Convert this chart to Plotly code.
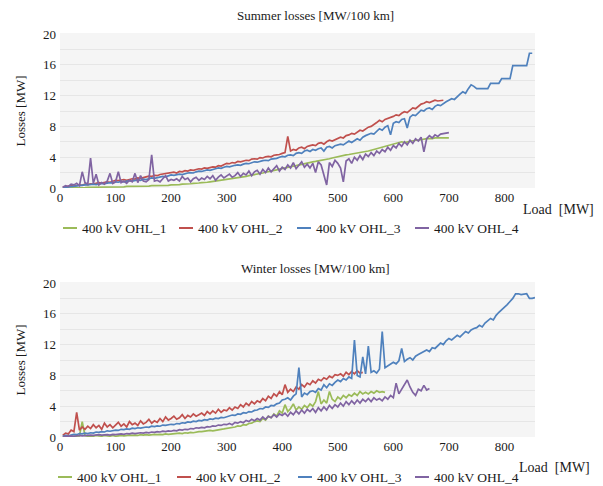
import plotly.graph_objects as go

# ---------------- data (Load step 5 MW, starting at 5 MW) ----------------
load_step = 5
series_names = ["400 kV OHL_1", "400 kV OHL_2", "400 kV OHL_3", "400 kV OHL_4"]
colors = ["#9bbb59", "#c0504d", "#4f81bd", "#8064a2"]
x_ticks = [0, 100, 200, 300, 400, 500, 600, 700, 800]
y_ticks = [0, 4, 8, 12, 16, 20]

summer_ohl1 = [
    0.0, 0.0, 0.0, 0.0, 0.05, 0.05, 0.05, 0.05, 0.05, 0.1,
    0.1, 0.1, 0.1, 0.1, 0.1, 0.1, 0.1, 0.1, 0.15, 0.15,
    0.15, 0.15, 0.15, 0.2, 0.2, 0.2, 0.2, 0.2, 0.25, 0.25,
    0.25, 0.25, 0.3, 0.3, 0.3, 0.3, 0.35, 0.35, 0.35, 0.4,
    0.4, 0.45, 0.45, 0.5, 0.5, 0.55, 0.55, 0.6, 0.6, 0.65,
    0.7, 0.7, 0.75, 0.8, 0.85, 0.9, 0.95, 1.0, 1.05, 1.1,
    1.15, 1.2, 1.25, 1.3, 1.4, 1.45, 1.5, 1.6, 1.65, 1.75,
    1.8, 1.9, 1.95, 2.05, 2.1, 2.2, 2.3, 2.35, 2.45, 2.55,
    2.6, 2.7, 2.75, 2.85, 2.9, 3.0, 3.1, 3.15, 3.2, 3.3,
    3.4, 3.45, 3.5, 3.6, 3.65, 3.75, 3.8, 3.9, 4.0, 4.1,
    4.15, 4.2, 4.3, 4.35, 4.4, 4.5, 4.55, 4.6, 4.7, 4.75,
    4.8, 4.9, 5.0, 5.1, 5.3, 5.4, 5.4, 5.5, 5.6, 5.7,
    5.8, 5.9, 6.0, 5.9, 6.0, 6.1, 6.1, 6.2, 6.2, 6.3,
    6.3, 6.4, 6.4, 6.4, 6.5, 6.5, 6.5, 6.5, 6.5, 6.5,
]
summer_ohl2 = [
    0.1, 0.15, 0.2, 0.3, 0.25, 0.35, 0.4, 0.35, 0.5, 0.45,
    0.55, 0.5, 0.6, 0.7, 0.65, 0.75, 0.8, 0.75, 0.9, 1.0,
    0.95, 1.05, 1.1, 1.0, 1.15, 1.2, 1.15, 1.3, 1.25, 1.4,
    1.45, 1.55, 1.5, 1.65, 1.6, 1.75, 1.8, 1.85, 1.95, 2.0,
    2.05, 1.95, 2.15, 2.1, 2.25, 2.2, 2.35, 2.3, 2.45, 2.5,
    2.45, 2.6, 2.55, 2.7, 2.75, 2.7, 2.9, 2.85, 3.05, 3.2,
    3.15, 3.3, 3.25, 3.45, 3.4, 3.55, 3.6, 3.55, 3.75, 3.8,
    3.75, 3.95, 3.9, 4.05, 4.1, 4.05, 4.25, 4.3, 4.35, 4.5,
    4.6, 6.7, 4.8, 5.0, 4.9, 5.2, 5.3, 5.1, 5.4, 5.5,
    5.6, 5.5, 5.8, 5.9, 5.7, 6.0, 6.2, 6.1, 6.3, 6.4,
    6.6, 6.5, 6.8, 6.9, 7.1, 7.0, 7.3, 7.5, 7.4, 7.7,
    7.9, 8.0, 8.2, 8.5, 8.8, 8.6, 8.9, 9.0, 9.2, 9.3,
    9.5, 9.4, 9.7, 9.9, 9.8, 10.1, 10.4, 10.3, 10.6, 10.9,
    11.0, 11.2, 11.1, 11.3, 11.4, 11.3, 11.4, 11.4,
]
summer_ohl3 = [
    0.05, 0.1, 0.15, 0.2, 0.25, 0.3, 0.3, 0.35, 0.4, 0.4,
    0.45, 0.5, 0.45, 0.55, 0.6, 0.55, 0.65, 0.7, 0.65, 0.8,
    0.75, 0.85, 0.8, 0.9, 0.95, 0.9, 1.0, 1.05, 1.0, 1.15,
    1.1, 1.2, 1.3, 1.25, 1.35, 1.4, 1.5, 1.45, 1.6, 1.7,
    1.65, 1.75, 1.8, 1.75, 1.9, 1.95, 2.0, 1.95, 2.1, 2.2,
    2.15, 2.3, 2.35, 2.3, 2.45, 2.5, 2.6, 2.55, 2.7, 2.8,
    2.75, 2.9, 2.95, 3.0, 2.95, 3.1, 3.2, 3.15, 3.3, 3.4,
    3.35, 3.5, 3.55, 3.6, 3.55, 3.75, 3.8, 3.85, 4.0, 4.1,
    4.05, 4.25, 4.3, 4.2, 4.5, 4.6, 4.5, 4.8, 4.9, 4.75,
    5.0, 4.9, 5.1, 5.2, 4.8, 5.3, 5.4, 5.2, 5.5, 5.6,
    5.7, 5.6, 5.9, 6.1, 5.9, 6.2, 6.4, 6.2, 6.6, 6.8,
    6.9, 7.1, 7.0, 7.4, 7.7, 7.5, 7.9, 8.1, 6.9, 8.4,
    8.6, 8.5, 8.9, 9.0, 7.8, 9.2, 9.5, 9.4, 9.8, 10.1,
    10.0, 10.3, 10.4, 10.2, 10.6, 10.8, 10.7, 11.0, 11.2, 11.4,
    11.6, 11.5, 11.9, 12.2, 12.5, 12.3, 12.9, 13.4, 13.2, 12.9,
    12.9, 12.9, 12.9, 12.9, 13.6, 13.6, 13.6, 13.6, 14.2, 14.2,
    14.2, 14.2, 15.9, 15.9, 15.9, 15.9, 15.9, 15.9, 17.5, 17.5,
]
summer_ohl4 = [
    0.1, 0.3, 0.2, 0.5, 0.4, 0.6, 0.3, 2.1, 0.7, 0.5,
    3.9, 0.6, 1.8, 0.4, 0.7, 0.5, 0.9, 1.9, 0.6, 0.8,
    2.1, 0.7, 0.9, 0.6, 1.0, 0.8, 1.9, 0.7, 1.6, 0.9,
    0.8, 1.1, 4.3, 0.9, 1.0, 0.8, 1.2, 1.6, 0.9, 1.1,
    1.0, 1.2, 0.9, 1.5, 1.1, 1.3, 0.8, 1.2, 1.4, 1.0,
    1.3, 1.1, 1.5, 1.2, 1.6, 1.0, 1.4, 1.7, 1.3, 1.5,
    1.8, 1.4, 1.6, 2.0, 1.5, 1.9, 1.7, 2.2, 1.6, 2.1,
    2.3, 1.8, 2.4, 2.0, 2.6, 2.1, 2.5, 2.9, 2.2, 2.7,
    2.4, 3.0, 2.6, 3.3, 2.5, 2.9, 3.4, 2.7, 3.1, 2.6,
    3.2, 2.0, 3.4, 3.0, 1.5, 0.4, 3.3, 2.8, 3.6, 3.2,
    2.6, 0.8, 3.5, 3.8, 3.2, 4.0, 3.6, 4.2, 3.7, 4.4,
    4.1, 4.6, 4.2, 4.8, 4.5, 5.0, 4.7, 5.3, 4.9, 5.5,
    5.2, 5.8, 5.4, 6.0, 5.6, 6.2, 5.8, 6.4, 6.1, 6.6,
    4.7, 6.4, 6.8, 6.5, 6.9, 6.7, 7.0, 7.1, 7.2, 7.2,
]

winter_ohl1 = [
    0.0, 0.05, 0.1, 0.05, 0.1, 0.1, 0.15, 2.0, 0.2, 0.1,
    0.15, 0.1, 0.2, 0.15, 0.1, 0.2, 0.15, 0.1, 0.2, 0.1,
    0.15, 0.2, 0.15, 0.2, 0.25, 0.2, 0.25, 0.2, 0.3, 0.25,
    0.3, 0.25, 0.3, 0.35, 0.3, 0.35, 0.3, 0.4, 0.35, 0.4,
    0.4, 0.45, 0.5, 0.45, 0.55, 0.5, 0.6, 0.55, 0.65, 0.7,
    0.7, 0.75, 0.8, 0.85, 0.8, 0.9, 0.95, 1.0, 1.05, 1.1,
    1.2, 1.25, 1.3, 1.45, 1.4, 1.6, 1.55, 1.75, 1.8, 2.0,
    2.1, 2.0, 2.4, 2.2, 2.7, 2.5, 3.0, 2.7, 3.4, 3.1,
    4.2, 3.3, 3.7, 4.3, 3.5, 3.9, 3.6, 4.1, 3.8, 4.3,
    4.0, 4.6, 5.9, 4.3, 4.8, 4.4, 5.9, 4.9, 4.6, 5.2,
    4.9, 5.4, 5.1, 5.5, 5.3, 5.7, 5.4, 5.9, 5.6, 5.8,
    5.6, 5.9, 5.7, 6.0, 5.8, 5.9, 5.8,
]
winter_ohl2 = [
    0.2, 0.5, 0.4, 0.9, 0.7, 3.2, 0.9, 1.3, 1.0, 1.4,
    1.1, 1.6, 1.2, 1.5, 1.0, 1.8, 1.3, 1.6, 1.2, 1.5,
    1.9, 1.4, 1.7, 1.3, 2.0, 1.6, 1.8, 1.5, 2.1, 1.7,
    1.9, 2.3, 1.8, 2.1, 1.9, 2.4, 2.0, 2.6, 2.2, 2.4,
    2.7, 2.3, 2.5, 2.9, 2.4, 2.8, 2.6, 3.0, 2.7, 2.9,
    3.1, 2.8, 3.3, 3.0, 3.4, 3.1, 3.6, 3.2, 3.5, 3.4,
    3.8, 3.5, 3.9, 3.7, 4.2, 3.9, 4.4, 4.1, 4.6, 4.3,
    4.7, 4.5, 5.0, 4.7, 5.3, 5.0, 5.6, 5.3, 5.9, 5.5,
    6.8, 5.8, 6.2, 5.9, 6.5, 6.2, 6.8, 6.5, 7.0, 6.8,
    7.3, 7.0, 7.5, 7.3, 7.7, 7.5, 7.9, 7.7, 8.1, 8.0,
    8.2, 7.9, 8.4, 8.1, 8.5, 8.2, 8.6, 8.3, 8.4,
]
winter_ohl3 = [
    0.1, 0.2, 0.15, 0.3, 0.35, 0.3, 0.45, 0.4, 0.5, 0.45,
    0.55, 0.5, 0.65, 0.6, 0.7, 0.65, 0.8, 0.75, 0.85, 0.9,
    0.85, 1.0, 0.95, 1.05, 1.0, 1.15, 1.1, 1.2, 1.15, 1.25,
    1.3, 1.25, 1.4, 1.35, 1.45, 1.4, 1.55, 1.5, 1.6, 1.65,
    1.6, 1.75, 1.7, 1.85, 1.8, 1.95, 1.9, 2.05, 2.0, 2.15,
    2.1, 2.25, 2.2, 2.35, 2.3, 2.45, 2.4, 2.55, 2.5, 2.65,
    2.7, 2.85, 2.8, 3.0, 2.95, 3.15, 3.1, 3.3, 3.25, 3.45,
    3.5, 3.7, 3.65, 3.9, 3.85, 4.1, 4.05, 4.3, 4.4, 4.8,
    4.9, 5.1, 4.8, 5.3, 5.6, 9.0, 5.2, 5.7, 5.5, 5.9,
    6.0, 5.8, 6.3, 6.1, 6.8, 6.4, 6.9, 6.7, 7.1, 7.4,
    7.2, 7.6, 7.4, 7.8, 7.6, 12.6, 8.0, 7.8, 10.4, 8.2,
    11.8, 8.4, 8.6, 8.3, 8.8, 13.7, 9.0, 9.2, 9.5, 9.7,
    9.5, 9.9, 11.5, 9.8, 10.1, 10.3, 10.0, 10.5, 10.7, 10.9,
    11.0, 11.3, 11.1, 11.6, 11.5, 11.9, 12.2, 12.0, 12.5, 12.8,
    12.6, 12.9, 13.2, 13.0, 13.4, 13.7, 13.5, 13.9, 14.1, 14.2,
    14.5, 14.3, 14.8, 15.1, 15.4, 15.2, 15.8, 16.2, 16.5, 16.8,
    17.2, 17.6, 18.0, 18.6, 18.6, 18.5, 18.6, 18.6, 18.0, 18.0,
    18.1,
]
winter_ohl4 = [
    0.05, 0.1, 0.1, 0.15, 0.1, 0.15, 0.2, 0.15, 0.2, 0.2,
    0.25, 0.2, 0.25, 0.3, 0.25, 0.3, 0.3, 0.25, 0.35, 0.3,
    0.35, 0.4, 0.35, 0.45, 0.4, 0.5, 0.45, 0.5, 0.55, 0.5,
    0.6, 0.55, 0.65, 0.6, 0.7, 0.65, 0.75, 0.7, 0.8, 0.75,
    0.85, 0.8, 0.95, 0.9, 1.0, 0.95, 1.1, 1.05, 1.2, 1.15,
    1.25, 1.2, 1.35, 1.3, 1.45, 1.4, 1.55, 1.5, 1.65, 1.6,
    1.75, 1.6, 1.9, 1.8, 2.0, 1.85, 2.15, 2.0, 2.3, 2.1,
    2.4, 2.2, 2.6, 2.3, 2.7, 2.5, 2.9, 2.6, 3.0, 2.8,
    3.1, 2.7, 3.2, 2.9, 3.4, 3.0, 3.5, 3.1, 3.6, 3.3,
    3.7, 3.2, 3.8, 3.4, 3.9, 3.5, 4.1, 3.7, 4.2, 3.9,
    4.4, 4.0, 4.6, 4.2, 4.7, 4.3, 4.8, 4.4, 4.9, 4.6,
    5.0, 4.6, 5.1, 4.8, 5.0, 4.7, 5.2, 4.9, 5.4, 5.1,
    7.0, 5.6, 6.2, 6.8, 7.4, 6.5, 5.8, 5.4, 6.2, 6.0,
    6.7, 6.1, 6.3,
]

summer = [summer_ohl1, summer_ohl2, summer_ohl3, summer_ohl4]
winter = [winter_ohl1, winter_ohl2, winter_ohl3, winter_ohl4]


def loads(vals):
    return [load_step * (i + 1) for i in range(len(vals))]


# ---------------- figure ----------------
W, H = 603, 486
FONT = "Liberation Serif, Times New Roman, serif"
TXT = "#1a1a1a"

fig = go.Figure()
for i, vals in enumerate(summer):
    fig.add_trace(go.Scatter(x=loads(vals), y=vals, mode="lines", name=series_names[i],
                             line=dict(color=colors[i], width=1.7), xaxis="x", yaxis="y",
                             showlegend=False))
for i, vals in enumerate(winter):
    fig.add_trace(go.Scatter(x=loads(vals), y=vals, mode="lines", name=series_names[i],
                             line=dict(color=colors[i], width=1.7), xaxis="x2", yaxis="y2",
                             showlegend=False))


def px_x(p):
    return p / W


def px_y(p):
    return 1 - p / H


xdom = [px_x(60), px_x(535)]
common_x = dict(range=[0, 855], tickvals=x_ticks, showgrid=False, zeroline=False,
                showline=False, ticks="", automargin=False,
                tickfont=dict(family=FONT, size=13, color=TXT))
common_y = dict(range=[0, 20], tickvals=y_ticks, showgrid=True, gridcolor="#e6e6e6",
                zeroline=False, showline=False, ticks="", automargin=False,
                ticklabelstandoff=3,
                minor=dict(dtick=2, showgrid=True, gridcolor="#e6e6e6"),
                tickfont=dict(family=FONT, size=13, color=TXT),
                title=dict(text="Losses [MW]", font=dict(family=FONT, size=13, color=TXT),
                           standoff=14))

# legend keys (line swatch + label) laid out like the original legend rows
legend_rows = [(228, [63, 179, 297, 415]), (477, [58, 177, 298, 415])]
shapes = [
    dict(type="rect", xref="paper", yref="paper", x0=xdom[0], x1=xdom[1],
         y0=px_y(188), y1=px_y(33), fillcolor="#f5f5f5", line_width=0, layer="below"),
    dict(type="rect", xref="paper", yref="paper", x0=xdom[0], x1=xdom[1],
         y0=px_y(437), y1=px_y(282), fillcolor="#f5f5f5", line_width=0, layer="below"),
]
annotations = [
    dict(text="Summer losses [MW/100 km]", xref="paper", yref="paper",
         x=px_x(315), y=px_y(16), showarrow=False, xanchor="center", yanchor="middle",
         font=dict(family=FONT, size=13, color=TXT)),
    dict(text="Winter losses [MW/100 km]", xref="paper", yref="paper",
         x=px_x(316), y=px_y(268), showarrow=False, xanchor="center", yanchor="middle",
         font=dict(family=FONT, size=13, color=TXT)),
    dict(text="Load  [MW]", xref="paper", yref="paper",
         x=px_x(596), y=px_y(210), showarrow=False, xanchor="right", yanchor="middle",
         font=dict(family=FONT, size=14, color=TXT)),
    dict(text="Load  [MW]", xref="paper", yref="paper",
         x=px_x(592), y=px_y(467), showarrow=False, xanchor="right", yanchor="middle",
         font=dict(family=FONT, size=14, color=TXT)),
]
for ly, xs in legend_rows:
    for i, lx in enumerate(xs):
        shapes.append(dict(type="line", xref="paper", yref="paper",
                           x0=px_x(lx), x1=px_x(lx + 14), y0=px_y(ly), y1=px_y(ly),
                           line=dict(color=colors[i], width=2)))
        annotations.append(dict(text=series_names[i], xref="paper", yref="paper",
                                x=px_x(lx + 17), y=px_y(ly), showarrow=False,
                                xanchor="left", yanchor="middle",
                                font=dict(family=FONT, size=13.5, color=TXT)))

fig.update_layout(
    width=W, height=H,
    margin=dict(l=0, r=0, t=0, b=0, autoexpand=False),
    paper_bgcolor="white",
    plot_bgcolor="#f5f5f5",
    xaxis=dict(domain=xdom, anchor="y", **common_x),
    yaxis=dict(domain=[px_y(188), px_y(34)], anchor="x", **common_y),
    xaxis2=dict(domain=xdom, anchor="y2", **common_x),
    yaxis2=dict(domain=[px_y(437), px_y(283)], anchor="x2", **common_y),
    shapes=shapes,
    annotations=annotations,
)

fig.write_html("out.html", config={"displayModeBar": False},
               post_script="document.body.style.margin='0px';")
